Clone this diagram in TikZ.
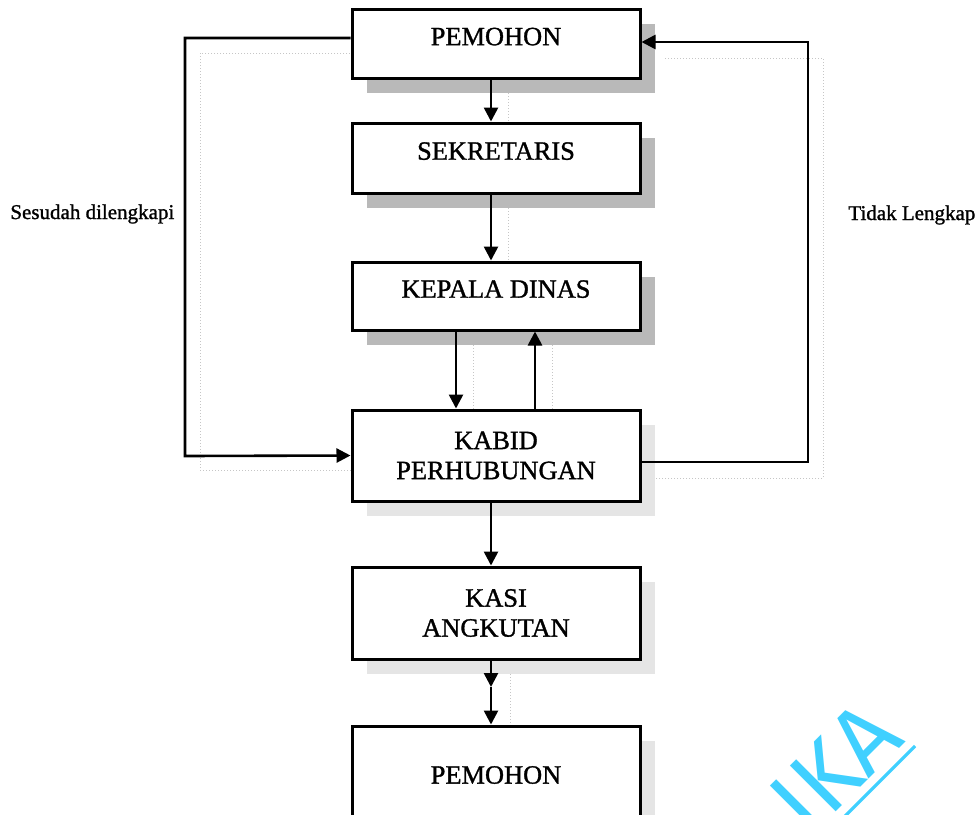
\documentclass[tikz,border=0pt]{standalone}
\usepackage{fontspec}
\setmainfont{Liberation Serif}[FakeBold=1.2]
\newfontfamily\boldish{Liberation Serif}[FakeBold=1.2]
\newfontfamily\wmfont{Fira Sans}
\usetikzlibrary{arrows.meta}
\definecolor{wmcyan}{RGB}{64,208,255}
\tikzset{
  box/.style={draw, line width=1.5pt, fill=white, minimum width=144pt, inner sep=0pt,
    font=\boldish\fontsize{13.2}{15}\selectfont, align=center},
  onebox/.style={box, text height=8.7pt, text depth=7pt},
  shadowdark/.style={fill=gray!55},
  shadowlight/.style={fill=gray!20},
  line/.style={line width=1.3pt},
  arr/.style={line, -{Triangle[length=7pt,width=7pt]}},
  ghost/.style={gray!45, line width=0.5pt, densely dotted},
  lbl/.style={font=\boldish\fontsize{10.5}{12}\selectfont, inner sep=0pt}
}
\begin{document}
\begin{tikzpicture}[x=0.5pt,y=-0.5pt]
\useasboundingbox (0,0) rectangle (979,814);
\clip (0,0) rectangle (979,814);

% ghost (scan shadow) lines
\draw[ghost] (365,53) -- (200,53) -- (200,470) -- (365,470);
\draw[ghost] (665,58) -- (823,58) -- (823,478) -- (655,478);
\draw[ghost] (508,78) -- (508,123);
\draw[ghost] (508,193) -- (508,262);
\draw[ghost] (473,345) -- (473,410);
\draw[ghost] (552,345) -- (552,410);
\draw[ghost] (510,674) -- (510,726);

% shadows
\fill[shadowdark] (367,24) rectangle (655,93);
\fill[shadowdark] (367,138) rectangle (655,208);
\fill[shadowdark] (367,277) rectangle (655,345);
\fill[shadowlight] (367,425) rectangle (655,516);
\fill[shadowlight] (367,582) rectangle (655,674);
\fill[shadowlight] (367,741) rectangle (655,839);

% boxes
\node[onebox, minimum height=34.5pt] (pem1) at (496,43.5) {PEMOHON};
\node[onebox, minimum height=35pt] (sek) at (496,158) {SEKRETARIS};
\node[onebox, minimum height=34pt] (kep) at (496,296) {KEPALA DINAS};
\node[box, minimum height=45.5pt] (kabid) at (496,455.5) {KABID\\PERHUBUNGAN};
\node[box, minimum height=46pt] (kasi) at (496,613) {KASI\\ANGKUTAN};
\node[box, minimum height=49pt] (pem2) at (496,775) {PEMOHON};

% labels
\node[lbl, anchor=west] (lblL) at (10,214) {Sesudah dilengkapi};
\node[lbl, anchor=west] (lblR) at (848,215) {Tidak Lengkap};

% main flow
\draw[arr] ([xshift=-2.5pt]pem1.south) -- ([xshift=-2.5pt]sek.north);
\draw[arr] ([xshift=-2.5pt]sek.south) -- ([xshift=-2.5pt]kep.north);
\draw[arr] ([xshift=-20pt]kep.south) -- ([xshift=-20pt]kabid.north);
\draw[arr] ([xshift=19.5pt]kabid.north) -- ([xshift=19.5pt]kep.south);
\draw[arr] ([xshift=-2.5pt]kabid.south) -- ([xshift=-2.5pt]kasi.north);
\coordinate (mid) at (491,687);
\draw[arr] ([xshift=-2.5pt]kasi.south) -- (mid);
\draw[arr] (mid) -- ([xshift=-2.5pt]pem2.north);

% loops
\coordinate (ltop) at (185,38);
\coordinate (lbot) at (185,456);
\draw[arr] ([yshift=2.75pt]pem1.west) -- (ltop) -- (lbot) -- (kabid.west);
\coordinate (rbot) at (808,462);
\coordinate (rtop) at (808,42);
\draw[arr] ([yshift=-3.25pt]kabid.east) -- (rbot) -- (rtop) -- ([yshift=0.75pt]pem1.east);

% watermark
\node[rotate=45, text=wmcyan, font=\wmfont\fontsize{47}{47}\selectfont, inner sep=0pt] (wm) at (835,767) {IKA};
\draw[wmcyan, line width=1.6pt] (915,746) -- (840,821);
\end{tikzpicture}
\end{document}
